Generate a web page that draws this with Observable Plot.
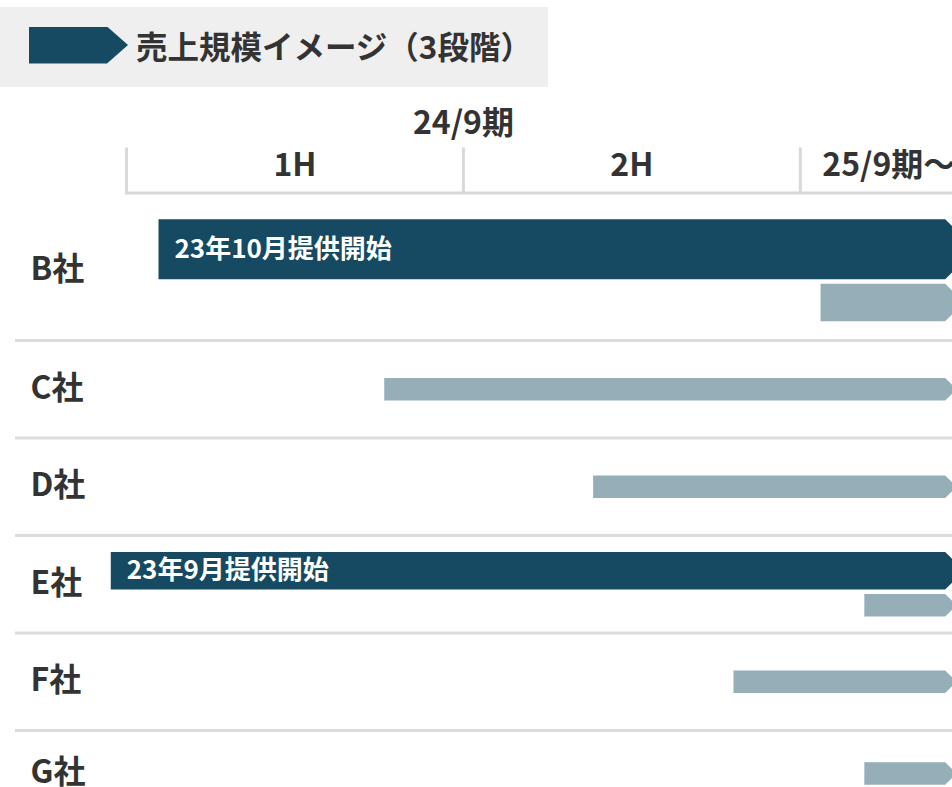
<!DOCTYPE html>
<html><head><meta charset="utf-8">
<script src="https://cdn.jsdelivr.net/npm/d3@7"></script>
<script src="https://cdn.jsdelivr.net/npm/@observablehq/plot@0.6"></script>
<style>
html,body{margin:0;padding:0;background:#fff;overflow:hidden;width:952px;height:787px}
body{font-family:"Noto Sans CJK JP","Noto Sans",sans-serif;color:#333}
#legend{position:relative;margin-top:7px;width:548px;height:80px;background:#efefef;display:flex;align-items:center}
#legend .arrow{margin-left:29px;width:99px;height:37px;background:#164a62;transform:translateY(-2px);clip-path:polygon(0 0,78px 0,99px 50%,78px 100%,0 100%)}
#legend .title{margin-left:8px;font-size:31.5px;font-weight:700;color:#333;white-space:nowrap;transform:translateY(-2px)}
#chart svg{display:block}
</style></head><body>
<div id="legend"><div class="arrow"></div><div class="title">売上規模イメージ（3段階）</div></div>
<div id="chart"></div>
<script>
// ---- data ----
const companies = ["B社","C社","D社","E社","F社","G社"];
const barCompany = ["B社","B社","C社","D社","E社","E社","F社","G社"];
const barPhase   = ["提供開始済","予定","予定","予定","提供開始済","予定","予定","予定"];
const barStart   = [0.57, 12.36, 4.59, 8.31, -0.28, 13.14, 10.81, 13.14]; // months from 2023/10
const barEnd     = [14.58, 14.58, 14.58, 14.58, 14.58, 14.58, 14.58, 14.58];
const barScale   = [3, 2, 1, 1, 2, 1, 1, 1]; // 売上規模 (3段階)
const barNote    = ["23年10月提供開始","","","","23年9月提供開始","","",""];
const fiscalLabels = ["24/9期"];
const fiscalMid    = [6];
const halfLabels   = ["1H","2H"];
const halfMid      = [3, 9];
const nextLabels   = ["25/9期～"];
const nextStart    = [12];
const periodBounds = [0, 6, 12];

// ---- layout helpers ----
const W = 952, H = 700, ML = 126, MT = 105.5;
const xMax = 14.71;
const ROW_PX = 97.5, MONTH_PX = (W - ML) / xMax;
const thick = {1: 0.231, 2: 0.385, 3: 0.615};
const gap = 0.046;
const rowSpan = companies.map((c, i) => i === 0 ? 1.44 : i === companies.length - 1 ? 0.88 : 1);
let acc = 0;
const rowTop = rowSpan.map(s => { const t = acc; acc += s; return t; });
const rowMid = companies.map((c, i) => rowTop[i] + rowSpan[i] / 2);

const bars = barCompany.map((c, i) => ({company: c, phase: barPhase[i], start: barStart[i], end: barEnd[i], size: barScale[i], note: barNote[i], idx: i}));
companies.forEach((c, ci) => {
  const g = bars.filter(b => b.company === c);
  const total = d3.sum(g, b => thick[b.size]) + gap * (g.length - 1);
  let y = rowMid[ci] - total / 2;
  g.forEach(b => { b.y1 = y; b.y2 = y + thick[b.size]; b.ym = (b.y1 + b.y2) / 2; y = b.y2 + gap; });
});
const outline = bars.flatMap(b => {
  const half = (b.y2 - b.y1) / 2;
  const tip = half * ROW_PX / MONTH_PX;
  return [[b.start, b.y1], [b.end, b.y1], [b.end + tip, b.ym], [b.end, b.y2], [b.start, b.y2]]
    .map(([x, y]) => ({id: b.idx, phase: b.phase, x, y}));
});
const y0 = -0.073;
const y1 = y0 + (H - MT) / ROW_PX;

const txt = {fill: "#333", fontWeight: 700};
const chart = Plot.plot({
  width: W, height: H,
  marginLeft: ML, marginRight: 0, marginTop: MT, marginBottom: 0,
  style: {fontFamily: '"Noto Sans CJK JP", "Noto Sans", sans-serif', background: "#fff"},
  x: {domain: [0, xMax], axis: null},
  y: {domain: [y0, y1], range: [MT, H], axis: null},
  color: {domain: ["提供開始済","予定"], range: ["#164a62","#95aeb7"]},
  marks: [
    Plot.ruleY(rowTop.slice(1), {stroke: "#dcdcdc", strokeWidth: 3, insetLeft: -111}),
    Plot.frame({anchor: "top", stroke: "#d9d9d9", strokeWidth: 3}),
    Plot.ruleX(periodBounds, {x: d => d, stroke: "#d9d9d9", strokeWidth: 3, insetTop: -45, insetBottom: H - MT}),
    Plot.text(fiscalLabels, {x: (d, i) => fiscalMid[i], text: d => d, frameAnchor: "top", lineAnchor: "bottom", dy: -59, fontSize: 32, ...txt}),
    Plot.text(halfLabels, {x: (d, i) => halfMid[i], text: d => d, frameAnchor: "top", lineAnchor: "bottom", dy: -17, fontSize: 32, ...txt}),
    Plot.text(nextLabels, {x: (d, i) => nextStart[i], text: d => d, frameAnchor: "top", lineAnchor: "bottom", textAnchor: "start", dx: 22, dy: -17, fontSize: 32, ...txt}),
    Plot.line(outline, {x: "x", y: "y", z: "id", fill: "phase", stroke: "none"}),
    Plot.text(bars.filter(b => b.note), {x: "start", y: "ym", text: "note", textAnchor: "start", dx: 16, fill: "#fff", fontSize: 26, fontWeight: 600}),
    Plot.text(companies, {y: (d, i) => rowMid[i], text: d => d, frameAnchor: "left", textAnchor: "start", dx: -96, dy: -1, fontSize: 32, ...txt})
  ]
});
document.getElementById("chart").appendChild(chart);
</script></body></html>
